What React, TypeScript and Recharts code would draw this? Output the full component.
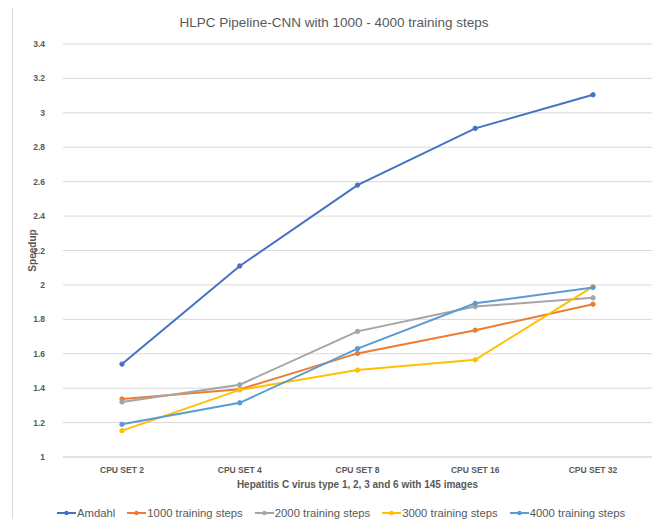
import { LineChart, Line, XAxis, YAxis, CartesianGrid } from 'recharts';

const categories = ['CPU SET 2', 'CPU SET 4', 'CPU SET 8', 'CPU SET 16', 'CPU SET 32'];
const amdahl = [1.54, 2.11, 2.58, 2.91, 3.105];
const steps1000 = [1.337, 1.393, 1.602, 1.737, 1.888];
const steps2000 = [1.32, 1.42, 1.73, 1.874, 1.925];
const steps3000 = [1.153, 1.39, 1.505, 1.565, 1.99];
const steps4000 = [1.19, 1.315, 1.63, 1.893, 1.985];
const yTicks = [1, 1.2, 1.4, 1.6, 1.8, 2, 2.2, 2.4, 2.6, 2.8, 3, 3.2, 3.4];

const SERIES = [
  { key: 'Amdahl', values: amdahl, color: '#4472c4' },
  { key: '1000 training steps', values: steps1000, color: '#ed7d31' },
  { key: '2000 training steps', values: steps2000, color: '#a5a5a5' },
  { key: '3000 training steps', values: steps3000, color: '#ffc000' },
  { key: '4000 training steps', values: steps4000, color: '#5b9bd5' },
];

const data = categories.map((name, i) => {
  const row: Record<string, any> = { name };
  SERIES.forEach((s) => (row[s.key] = s.values[i]));
  return row;
});

const FONT = '"Liberation Sans", Arial, sans-serif';

// Excel-style legend, drawn outside the chart so it doesn't shrink the plot
function ChartLegend() {
  return (
    <div
      style={{
        position: 'absolute',
        top: 507,
        left: 57,
        display: 'flex',
        fontFamily: FONT,
        fontSize: 11.3,
        color: '#595959',
        whiteSpace: 'nowrap',
      }}
    >
      {SERIES.map((s) => (
        <div key={s.key} style={{ display: 'flex', alignItems: 'center', marginRight: 12 }}>
          <svg width={19} height={8} style={{ marginRight: 1 }}>
            <line x1={0} y1={4} x2={19} y2={4} stroke={s.color} strokeWidth={2} />
            <circle cx={9.5} cy={4} r={2.2} fill={s.color} />
          </svg>
          <span>{s.key}</span>
        </div>
      ))}
    </div>
  );
}

export default function App() {
  return (
    <div style={{ position: 'relative', width: 662, height: 527, margin: -8, background: '#fff', overflow: 'hidden' }}>
      <div
        style={{
          position: 'absolute',
          left: 12,
          top: 7,
          width: 647,
          height: 540,
          border: '1px solid #d9d9d9',
          boxSizing: 'border-box',
        }}
      />
      <div
        style={{
          position: 'absolute',
          top: 15,
          left: 0,
          width: 668,
          textAlign: 'center',
          fontFamily: FONT,
          fontSize: 13.5,
          color: '#595959',
        }}
      >
        HLPC Pipeline-CNN with 1000 - 4000 training steps
      </div>
      <LineChart
        width={662}
        height={527}
        data={data}
        margin={{ top: 44, right: 10, bottom: 50, left: 18 }}
        style={{ position: 'absolute', left: 0, top: 0 }}
      >
        <CartesianGrid vertical={false} stroke="#d9d9d9" />
        <XAxis
          dataKey="name"
          height={20}
          padding={{ left: 59, right: 59 }}
          axisLine={{ stroke: '#d9d9d9' }}
          tickLine={false}
          tickSize={0}
          tickMargin={10}
          tick={{ fontSize: 8.5, fontWeight: 'bold', fill: '#595959', fontFamily: FONT }}
          label={{
            value: 'Hepatitis C virus type 1, 2, 3 and 6 with 145 images',
            position: 'bottom',
            offset: 4,
            fontSize: 10,
            fontWeight: 'bold',
            fill: '#595959',
            fontFamily: FONT,
          }}
        />
        <YAxis
          width={45}
          domain={[1, 3.4]}
          ticks={yTicks}
          axisLine={false}
          tickLine={false}
          tickSize={0}
          tickMargin={18}
          tick={{ fontSize: 8.5, fontWeight: 'bold', fill: '#595959', fontFamily: FONT }}
          label={{
            value: 'Speedup',
            angle: -90,
            position: 'insideLeft',
            offset: 14,
            fontSize: 10,
            fontWeight: 'bold',
            fill: '#595959',
            fontFamily: FONT,
            style: { textAnchor: 'middle' },
          }}
        />
        {SERIES.map((s) => (
          <Line
            key={s.key}
            dataKey={s.key}
            stroke={s.color}
            strokeWidth={2}
            dot={{ r: 2.2, fill: s.color, stroke: s.color, strokeWidth: 1 }}
            activeDot={false}
            isAnimationActive={false}
          />
        ))}
      </LineChart>
      <ChartLegend />
    </div>
  );
}
